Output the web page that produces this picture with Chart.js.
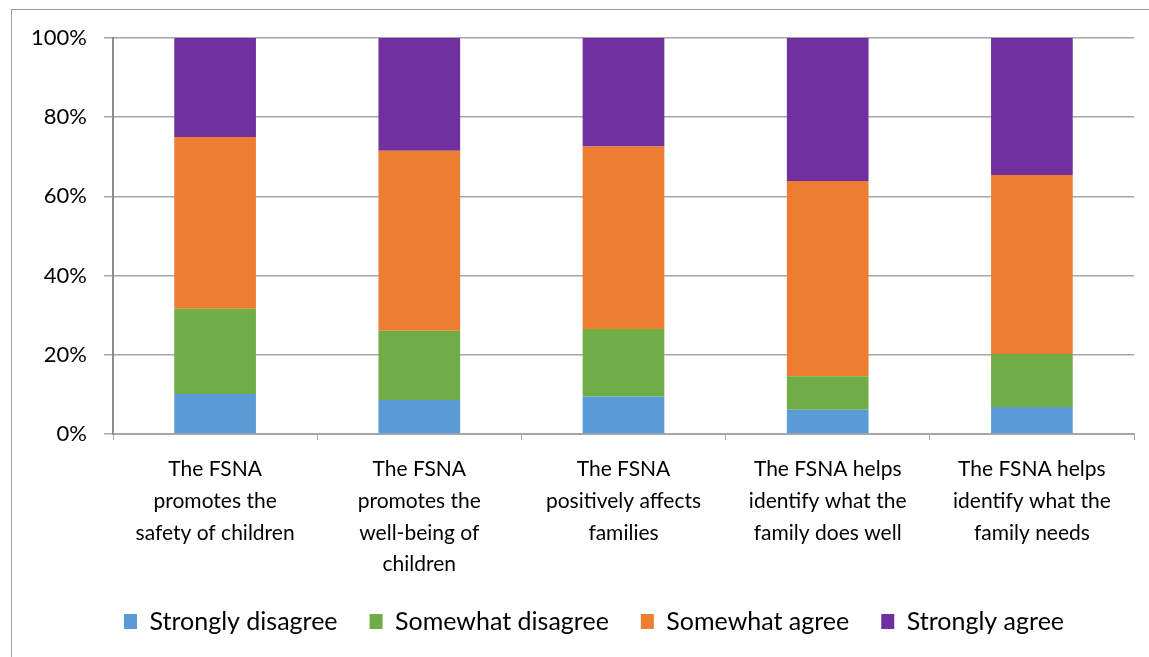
<!DOCTYPE html>
<html>
<head>
<meta charset="utf-8">
<script src="https://cdn.jsdelivr.net/npm/chart.js@4/dist/chart.umd.min.js"></script>
<style>
  html, body { margin: 0; padding: 0; background: #fff; }
  #frame { position: absolute; left: 11px; top: 9px; width: 1200px; height: 700px;
           border-left: 1px solid #a0a0a0; border-top: 1px solid #a0a0a0; }
  #wrap { position: absolute; left: 0; top: 0; width: 1149px; height: 657px; }
</style>
</head>
<body>
<div id="frame"></div>
<div id="wrap"><canvas id="chart-fsna"></canvas></div>
<script>
var categories = [
    ["The FSNA", "promotes the", "safety of children"],
    ["The FSNA", "promotes the", "well-being of", "children"],
    ["The FSNA", "positively affects", "families"],
    ["The FSNA helps", "identify what the", "family does well"],
    ["The FSNA helps", "identify what the", "family needs"]
];
var stronglyDisagree = [10.1, 8.6, 9.5, 6.1, 6.8];
var somewhatDisagree = [21.5, 17.5, 17.0, 8.5, 13.4];
var somewhatAgree    = [43.4, 45.4, 46.1, 49.3, 45.2];
var stronglyAgree    = [25.0, 28.5, 27.4, 36.1, 34.6];
var yTicks = [0, 20, 40, 60, 80, 100];

var font = "Lato, 'Open Sans', sans-serif";

// nudge the legend a bit to the right, like in the original
var legendShift = {
    id: 'legendShift',
    afterLayout: function (chart) {
        chart.legend.left += 27;
        chart.legend.right += 27;
    }
};

var domChart = document.getElementById("chart-fsna");
var chart = new Chart(domChart, {
    type: 'bar',
    data: {
        labels: categories,
        datasets: [{
            label: "Strongly disagree",
            backgroundColor: "#5B9BD5",
            data: stronglyDisagree
        }, {
            label: "Somewhat disagree",
            backgroundColor: "#70AD47",
            data: somewhatDisagree
        }, {
            label: "Somewhat agree",
            backgroundColor: "#ED7D31",
            data: somewhatAgree
        }, {
            label: "Strongly agree",
            backgroundColor: "#7030A0",
            data: stronglyAgree
        }]
    },
    plugins: [legendShift],
    options: {
        responsive: true,
        maintainAspectRatio: false,
        animation: false,
        layout: { padding: { top: 38, right: 15, left: 0, bottom: 13 } },
        datasets: { bar: { barPercentage: 0.4, categoryPercentage: 1.0 } },
        plugins: {
            tooltip: { enabled: false },
            legend: {
                position: 'bottom',
                maxHeight: 67,
                labels: {
                    color: '#000',
                    font: { family: font, size: 25 },
                    boxWidth: 13,
                    boxHeight: 15,
                    padding: 32
                }
            }
        },
        scales: {
            x: {
                stacked: true,
                grid: { drawOnChartArea: false, drawTicks: true, tickLength: 6, color: '#a6a6a6', offset: true },
                border: { color: '#a6a6a6', width: 2 },
                ticks: { color: '#000', font: { family: font, size: 21, lineHeight: 1.52 }, padding: 13, maxRotation: 0, autoSkip: false },
                afterFit: function (scale) { scale.height = 143; }
            },
            y: {
                stacked: true,
                min: 0,
                max: 100,
                afterBuildTicks: function (scale) {
                    scale.ticks = yTicks.map(function (v) { return { value: v }; });
                },
                grid: { color: '#a6a6a6', lineWidth: 1.5, tickLength: 9 },
                border: { color: '#8c8c8c', width: 2 },
                ticks: {
                    color: '#000',
                    font: { family: font, size: 22 },
                    padding: 17,
                    callback: function (v) { return v + '%'; }
                },
                afterFit: function (scale) { scale.width = 113; }
            }
        }
    }
});
</script>
</body>
</html>
